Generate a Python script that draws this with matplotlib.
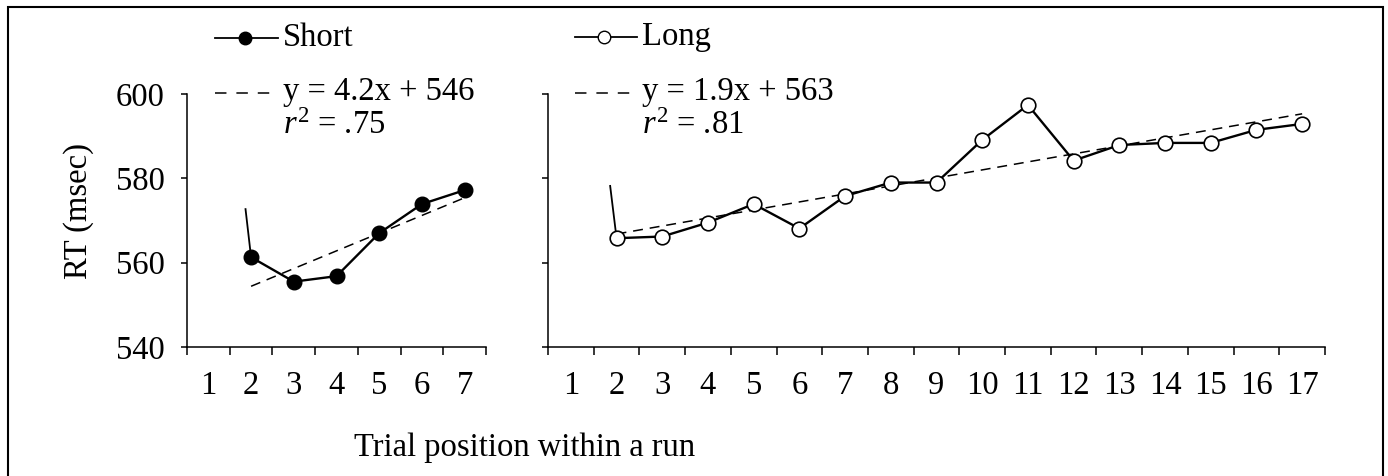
import matplotlib
matplotlib.use("Agg")
import matplotlib.pyplot as plt
from matplotlib.lines import Line2D
from matplotlib.patches import Rectangle
import numpy as np

plt.rcParams["font.family"] = ["Liberation Serif", "DejaVu Serif"]
plt.rcParams["mathtext.fontset"] = "custom"
plt.rcParams["mathtext.rm"] = "Liberation Serif"
plt.rcParams["mathtext.it"] = "Liberation Serif:italic"

# data
short_x = [2, 3, 4, 5, 6, 7]
short_rt = [561.3, 555.5, 556.8, 567.0, 573.9, 577.2]
short_lead = [572.7, 561.3]          # stray segment into trial 2
long_x = list(range(2, 18))
long_rt = [565.8, 566.2, 569.5, 573.9, 568.1, 575.8, 579.0, 579.0,
           589.1, 597.4, 584.2, 587.9, 588.4, 588.4, 591.5, 592.9]
long_lead = [578.2, 565.8]
short_fit = (4.2, 546)
long_fit = (1.9, 563)
short_cats = 7
long_cats = 17
yticks = [540, 560, 580, 600]

W, H = 1388, 476
fig = plt.figure(figsize=(W / 100, H / 100), dpi=100)
FS = 23.5


def px_axes(x0, x1, ytop, ybot):
    return fig.add_axes([x0 / W, 1 - ybot / H, (x1 - x0) / W, (ybot - ytop) / H])


def style(ax, ncat, labels):
    ax.set_xlim(0.5, ncat + 0.5)
    ax.set_ylim(540, 600)
    for s in ["top", "right"]:
        ax.spines[s].set_visible(False)
    for s in ["left", "bottom"]:
        ax.spines[s].set_linewidth(1.1)
    ax.set_xticks(range(1, ncat + 1))
    ax.set_xticklabels([str(i) for i in range(1, ncat + 1)], fontsize=FS)
    ax.set_xticks(np.arange(0.5, ncat + 1, 1), minor=True)
    ax.tick_params(axis="x", which="major", length=0, pad=17)
    ax.tick_params(axis="x", which="minor", length=6, width=1.1, direction="out")
    ax.set_yticks(yticks)
    ax.tick_params(axis="y", length=4, width=1.1, direction="out", pad=12)
    if labels:
        ax.set_yticklabels([str(v) for v in yticks], fontsize=FS)
    else:
        ax.set_yticklabels([])
    ax.patch.set_alpha(0)


ax1 = px_axes(187, 486, 94, 347)
ax2 = px_axes(548, 1325, 94, 347)
style(ax1, short_cats, True)
style(ax2, long_cats, False)

# short panel
ax1.plot([1.87, 2], short_lead, color="black", lw=1.3)
fx = np.array([short_x[0], short_x[-1]])
ax1.plot(fx, short_fit[0] * fx + short_fit[1], color="black", lw=1.1,
         dashes=(6.5, 4.5))
ax1.plot(short_x, short_rt, color="black", lw=1.7, marker="o", ms=10.5,
         mfc="black", mec="black", clip_on=False)

# long panel
ax2.plot([1.86, 2], long_lead, color="black", lw=1.3)
fx = np.array([long_x[0], long_x[-1]])
ax2.plot(fx, long_fit[0] * fx + long_fit[1], color="black", lw=1.1,
         dashes=(6.5, 4.5))
ax2.plot(long_x, long_rt, color="black", lw=1.7, marker="o", ms=10.5,
         mfc="white", mec="black", mew=1.2, clip_on=False)


def fx_(x):
    return x / W


def fy_(y):
    return 1 - y / H


# hand-made legends
fig.add_artist(Line2D([fx_(215), fx_(278)], [fy_(38), fy_(38)], color="black",
                      lw=1.3, transform=fig.transFigure))
fig.add_artist(Line2D([fx_(245)], [fy_(38)], color="black", marker="o", ms=9,
                      mfc="black", mec="black", transform=fig.transFigure))
fig.text(fx_(283), fy_(38), "Short", fontsize=FS, va="center", ha="left")
fig.add_artist(Line2D([fx_(215), fx_(278)], [fy_(93), fy_(93)], color="black",
                      lw=1.1, dashes=(7.5, 6.5), transform=fig.transFigure))
fig.text(fx_(283), fy_(92), "y = 4.2x + 546", fontsize=FS, va="center", ha="left")
fig.text(fx_(283), fy_(126), r"$\mathit{r}^{\mathrm{2}}$ = .75", fontsize=FS,
         va="center", ha="left")

fig.add_artist(Line2D([fx_(575), fx_(637)], [fy_(37), fy_(37)], color="black",
                      lw=1.3, transform=fig.transFigure))
fig.add_artist(Line2D([fx_(604)], [fy_(37)], color="black", marker="o", ms=9,
                      mfc="white", mec="black", transform=fig.transFigure))
fig.text(fx_(642), fy_(37), "Long", fontsize=FS, va="center", ha="left")
fig.add_artist(Line2D([fx_(575), fx_(637)], [fy_(93), fy_(93)], color="black",
                      lw=1.1, dashes=(7.5, 6.5), transform=fig.transFigure))
fig.text(fx_(642), fy_(92), "y = 1.9x + 563", fontsize=FS, va="center", ha="left")
fig.text(fx_(642), fy_(126), r"$\mathit{r}^{\mathrm{2}}$ = .81", fontsize=FS,
         va="center", ha="left")

fig.text(fx_(79), fy_(211), "RT (msec)", fontsize=FS, rotation=90,
         va="center", ha="center")
fig.text(fx_(354), fy_(448), "Trial position within a run", fontsize=FS,
         va="center", ha="left")

fig.add_artist(Rectangle((fx_(8), -0.05), fx_(1383) - fx_(8), fy_(7) + 0.05,
                         fill=False, ec="black", lw=1.5, transform=fig.transFigure))

fig.savefig("out.png", dpi=100)
